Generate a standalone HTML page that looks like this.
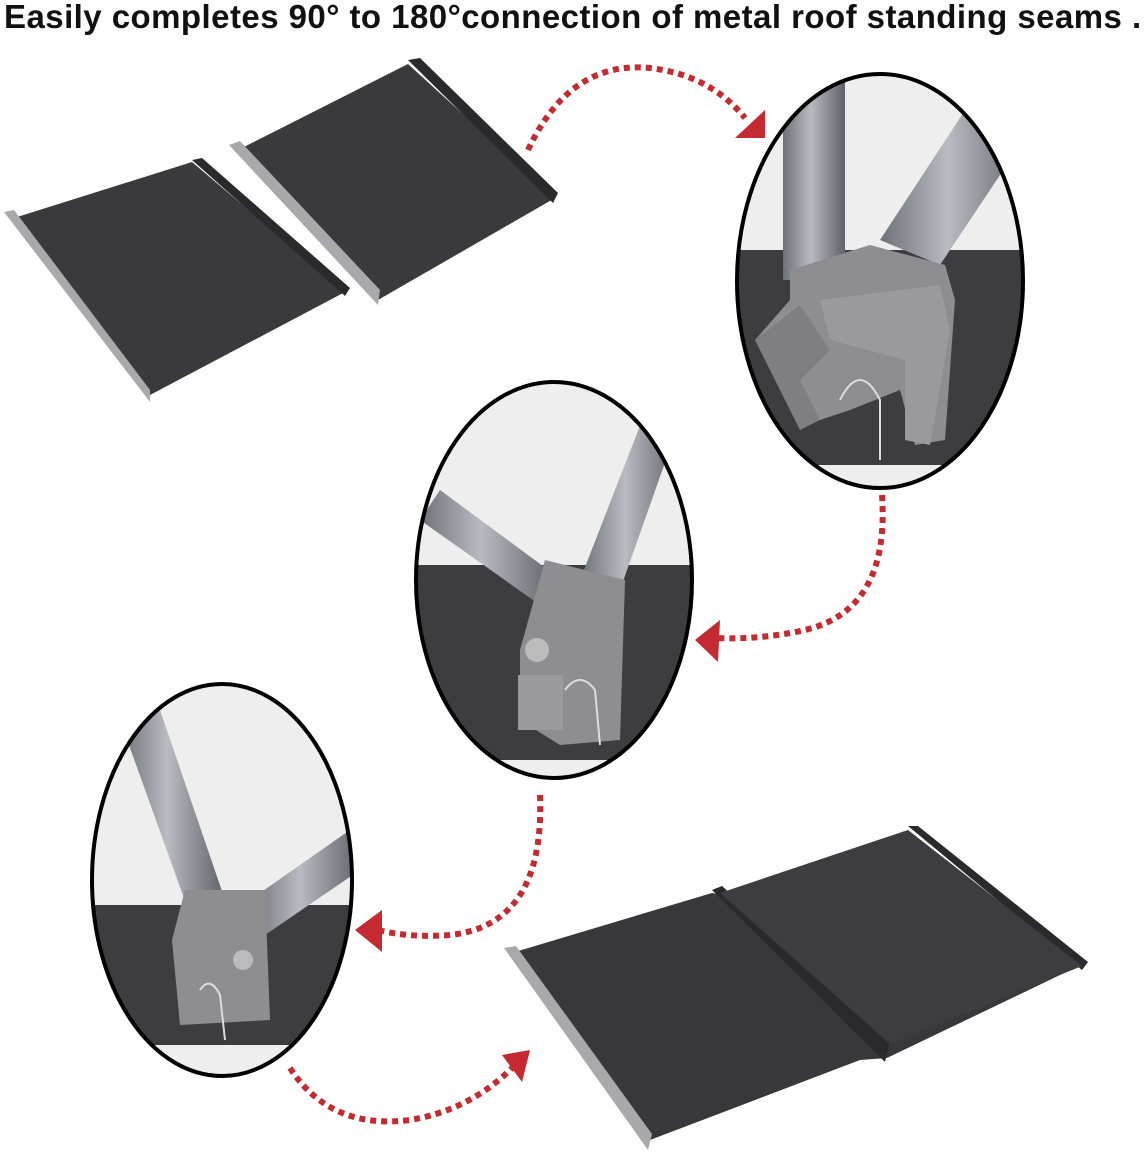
<!DOCTYPE html>
<html><head><meta charset="utf-8"><style>
html,body{margin:0;padding:0;background:#fff;}
body{width:1147px;height:1164px;position:relative;overflow:hidden;}
.t{position:absolute;left:4px;top:-2px;font:bold 33px "Liberation Sans",Arial,sans-serif;color:#111;white-space:nowrap;letter-spacing:0.45px;}
svg{position:absolute;left:0;top:0;}
</style></head><body>
<div class="t">Easily completes 90° to 180°connection of metal roof standing seams .</div>
<svg width="1147" height="1164" viewBox="0 0 1147 1164">
<defs>
<linearGradient id="pipe" x1="0" x2="1"><stop offset="0" stop-color="#6d7178"/><stop offset="0.45" stop-color="#b8bcc2"/><stop offset="1" stop-color="#5f6268"/></linearGradient>
<clipPath id="c1"><ellipse cx="880" cy="281" rx="143" ry="207"/></clipPath>
<clipPath id="c2"><ellipse cx="554" cy="580" rx="138" ry="198"/></clipPath>
<clipPath id="c3"><ellipse cx="222" cy="880" rx="130" ry="196"/></clipPath>
</defs>
<polygon points="14,218 192,162 345,292 150,395" fill="#3a3a3c"/>
<polygon points="4,212 14,210 150,390 150,402" fill="#a9a9ab"/>
<polygon points="192,160 202,158 350,288 345,296" fill="#2a2a2c"/>
<polygon points="238,150 408,64 555,198 378,300" fill="#3a3a3c"/>
<polygon points="229,145 240,141 380,290 378,305" fill="#a9a9ab"/>
<polygon points="408,60 420,58 558,193 553,203" fill="#2a2a2c"/>
<g clip-path="url(#c1)">
<rect x="730" y="70" width="300" height="430" fill="#eeeeee"/>
<rect x="730" y="250" width="300" height="215" fill="#3d3d3f"/>
<rect x="783" y="80" width="62" height="200" fill="url(#pipe)"/>
<polygon points="880,240 940,265 1030,130 975,95" fill="url(#pipe)"/>
<polygon points="790,270 870,245 945,265 955,300 945,440 915,445 900,390 850,410 820,420 755,340 790,300" fill="#8e8e90"/>
<polygon points="820,300 940,285 950,330 930,445 905,440 905,360 830,340" fill="#9a9a9c"/>
<polygon points="755,340 800,305 830,350 800,380 820,420 800,430" fill="#7f7f81"/>
<path d="M840 400 Q860 360 880 400 L880 460" stroke="#ddd" stroke-width="2" fill="none"/>
</g>
<ellipse cx="880" cy="281" rx="143" ry="207" fill="none" stroke="#000" stroke-width="4"/>
<g clip-path="url(#c2)">
<rect x="410" y="375" width="290" height="410" fill="#eeeeee"/>
<rect x="410" y="565" width="290" height="195" fill="#3d3d3f"/>
<polygon points="420,520 440,490 555,575 540,605" fill="url(#pipe)"/>
<polygon points="580,580 620,590 680,420 650,400" fill="url(#pipe)"/>
<polygon points="545,560 625,580 620,740 560,745 520,720 520,650" fill="#8e8e90"/>
<rect x="518" y="675" width="45" height="55" fill="#9a9a9c"/>
<circle cx="537" cy="650" r="12" fill="#bbb"/>
<path d="M565 690 Q580 670 595 690 L600 745" stroke="#ddd" stroke-width="2" fill="none"/>
</g>
<ellipse cx="554" cy="580" rx="138" ry="198" fill="none" stroke="#000" stroke-width="4"/>
<g clip-path="url(#c3)">
<rect x="85" y="680" width="280" height="400" fill="#eeeeee"/>
<rect x="85" y="905" width="280" height="140" fill="#3d3d3f"/>
<polygon points="120,720 160,710 225,900 190,915" fill="url(#pipe)"/>
<polygon points="250,900 265,935 360,870 350,830" fill="url(#pipe)"/>
<polygon points="185,890 265,890 270,1020 180,1025 172,940" fill="#8e8e90"/>
<circle cx="243" cy="960" r="10" fill="#bbb"/>
<path d="M200 990 Q210 975 220 995 L225 1040" stroke="#ddd" stroke-width="2" fill="none"/>
</g>
<ellipse cx="222" cy="880" rx="130" ry="196" fill="none" stroke="#000" stroke-width="4"/>
<polygon points="515,952 712,893 1085,963 887,1058 860,1060 650,1140" fill="#38383a"/>
<polygon points="504,948 516,946 652,1134 648,1150" fill="#a9a9ab"/>
<polygon points="712,890 722,886 890,1040 885,1062" fill="#2a2a2c"/>
<polygon points="908,826 918,826 1088,962 1082,970" fill="#2a2a2c"/>
<polygon points="720,893 908,830 1082,966 890,1044" fill="#3d3d3f"/>
<g fill="none" stroke="#c42a2f" stroke-width="6" stroke-dasharray="6,5">
<path d="M528 150 Q570 60 650 68 Q710 75 745 118"/>
<path d="M882 495 Q890 610 805 630 Q760 640 715 638"/>
<path d="M540 795 Q545 925 450 935 Q410 938 378 930"/>
<path d="M290 1068 Q330 1130 410 1120 Q470 1110 512 1068"/>
</g>
<g fill="#c42a2f">
<polygon points="765,110 765,138 735,138"/>
<polygon points="695,640 720,620 718,662"/>
<polygon points="355,930 382,910 382,952"/>
<polygon points="530,1050 502,1055 522,1082"/>
</g>
</svg>
</body></html>
